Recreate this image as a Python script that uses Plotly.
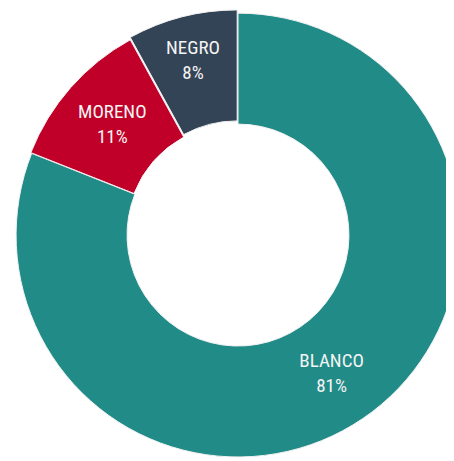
import plotly.graph_objects as go

# data
labels = ["BLANCO", "MORENO", "NEGRO"]
values = [81, 11, 8]
colors = ["#218b87", "#c10029", "#344457"]

fig = go.Figure(go.Pie(
    labels=labels,
    values=values,
    hole=0.5,
    sort=False,
    direction="clockwise",
    rotation=0,
    pull=[0, 0.005, 0.015],
    marker=dict(colors=colors, line=dict(color="#f2f2f2", width=1)),
    texttemplate="%{label}<br>%{percent:.0%}",
    textposition="inside",
    insidetextorientation="horizontal",
    textfont=dict(family="Roboto Condensed, Liberation Sans Narrow, DejaVu Sans Condensed, Roboto",
                  size=19, color="#f4f4f4"),
    # page body has an 8px margin, so the figure is shifted by that much
    domain=dict(x=[0.0103, 0.9985], y=[0.0015, 0.996]),
    showlegend=False,
    hoverinfo="label+percent",
))

fig.update_layout(
    width=456, height=453,
    margin=dict(l=0, r=0, t=0, b=0),
    paper_bgcolor="white",
    plot_bgcolor="white",
)

fig.write_html("out.html")
